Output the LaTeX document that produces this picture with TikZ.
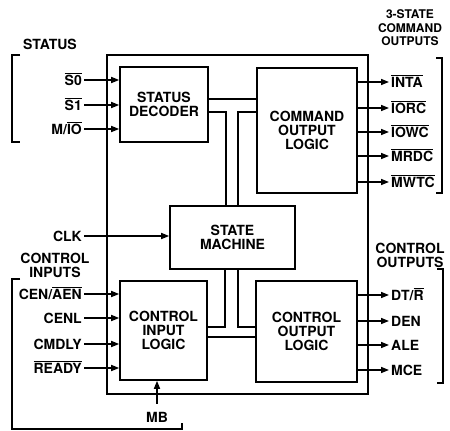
\documentclass[tikz,border=0pt]{standalone}
\usepackage{fontspec}
\setmainfont{TeX Gyre Heros}
\usepackage{tikz}
\usetikzlibrary{arrows.meta}
\newcommand{\sigbar}[1]{$\overline{\mbox{#1}}$}

\begin{document}
\begin{tikzpicture}[x=1pt,y=-1pt]
  \tikzset{chipbox/.style={draw=black,line width=1.6pt,inner sep=0pt}}
  \tikzset{blockbox/.style={draw=black,line width=1.6pt,inner sep=0pt,align=center,font=\bfseries\fontsize{14}{14}\selectfont}}
  \tikzset{siglabel/.style={font=\bfseries\fontsize{14}{14}\selectfont,inner sep=2pt,text height=10pt,text depth=0pt}}
  \tikzset{grouplabel/.style={font=\bfseries\fontsize{14}{14}\selectfont,align=center,inner sep=0pt}}
  \tikzset{sigline/.style={draw=black,line width=1.5pt,-{Triangle[length=8pt,width=6pt]}}}
  \tikzset{wire/.style={draw=black,line width=1.5pt}}
  \tikzset{bracketline/.style={draw=black,line width=1.1pt}}
  \useasboundingbox (0,0) rectangle (450,431);
  \node[chipbox,minimum width=261pt,minimum height=339pt] (chip) at (237.5,224.5) {};
  \node[blockbox,minimum width=88pt,minimum height=75pt] (dec) at (164,104.5) {STATUS\\DECODER};
  \node[blockbox,minimum width=100pt,minimum height=125pt] (col) at (307,130.5) {COMMAND\\OUTPUT\\LOGIC};
  \node[blockbox,minimum width=125pt,minimum height=63pt] (sm) at (232.5,237.5) {STATE\\MACHINE};
  \node[blockbox,minimum width=87pt,minimum height=99pt] (cil) at (163.5,330.5) {CONTROL\\INPUT\\LOGIC};
  \node[blockbox,minimum width=101pt,minimum height=101pt] (colog) at (306.5,331.5) {CONTROL\\OUTPUT\\LOGIC};
  \node[grouplabel] (status) at (50,44) {STATUS};
  \node[grouplabel] (ctlin) at (55,265) {CONTROL\\INPUTS};
  \node[grouplabel,font=\bfseries\fontsize{12}{13.5}\selectfont] (cmdout) at (410,28) {3-STATE\\COMMAND\\OUTPUTS};
  \node[grouplabel] (ctlout) at (410,255) {CONTROL\\OUTPUTS};
  \node[siglabel,anchor=east] (s0) at (84,80) {\sigbar{S0}};
  \node[siglabel,anchor=east] (s1) at (84,105) {\sigbar{S1}};
  \node[siglabel,anchor=east] (mio) at (84,129) {M/\sigbar{IO}};
  \node[siglabel,anchor=east] (clk) at (84,236) {CLK};
  \node[siglabel,anchor=east] (cen) at (84,294) {CEN/\sigbar{AEN}};
  \node[siglabel,anchor=east] (cenl) at (84,318) {CENL};
  \node[siglabel,anchor=east] (cmdly) at (84,344) {CMDLY};
  \node[siglabel,anchor=east] (ready) at (84,368) {\sigbar{READY}};
  \node[siglabel] (mb) at (157,417) {MB};
  \node[siglabel,anchor=west] (inta) at (389,82) {\sigbar{INTA}};
  \node[siglabel,anchor=west] (iorc) at (389,108) {\sigbar{IORC}};
  \node[siglabel,anchor=west] (iowc) at (389,132) {\sigbar{IOWC}};
  \node[siglabel,anchor=west] (mrdc) at (389,156) {\sigbar{MRDC}};
  \node[siglabel,anchor=west] (mwtc) at (389,182) {\sigbar{MWTC}};
  \node[siglabel,anchor=west] (dtr) at (389,295) {DT/\sigbar{R}};
  \node[siglabel,anchor=west] (den) at (389,321) {DEN};
  \node[siglabel,anchor=west] (ale) at (389,345) {ALE};
  \node[siglabel,anchor=west] (mce) at (389,370) {MCE};
  \draw[sigline] (s0.east) -- (s0.east -| dec.west);
  \draw[sigline] (s1.east) -- (s1.east -| dec.west);
  \draw[sigline] (mio.east) -- (mio.east -| dec.west);
  \draw[sigline] (clk.east) -- (clk.east -| sm.west);
  \draw[sigline] (cen.east) -- (cen.east -| cil.west);
  \draw[sigline] (cenl.east) -- (cenl.east -| cil.west);
  \draw[sigline] (cmdly.east) -- (cmdly.east -| cil.west);
  \draw[sigline] (ready.east) -- (ready.east -| cil.west);
  \draw[sigline] ([yshift=6pt]mb.north) -- (mb.north |- cil.south);
  \draw[sigline] (col.east |- inta.west) -- (inta.west);
  \draw[sigline] (col.east |- iorc.west) -- (iorc.west);
  \draw[sigline] (col.east |- iowc.west) -- (iowc.west);
  \draw[sigline] (col.east |- mrdc.west) -- (mrdc.west);
  \draw[sigline] (col.east |- mwtc.west) -- (mwtc.west);
  \draw[sigline] (colog.east |- dtr.west) -- (dtr.west);
  \draw[sigline] (colog.east |- den.west) -- (den.west);
  \draw[sigline] (colog.east |- ale.west) -- (ale.west);
  \draw[sigline] (colog.east |- mce.west) -- (mce.west);
  \draw[wire] (dec.east |- 0,99) -- (col.west |- 0,99);
  \draw[wire] (dec.east |- 0,112) -| ([xshift=-6.5pt]sm.north);
  \draw[wire] (col.west |- 0,112) -| ([xshift=5.5pt]sm.north);
  \draw[wire] ([xshift=-7.5pt]sm.south) |- (cil.east |- 0,327);
  \draw[wire] ([xshift=5.5pt]sm.south) |- (colog.west |- 0,327);
  \draw[wire] (cil.east |- 0,337) -- (colog.west |- 0,337);
  \draw[bracketline] (20,55) -- (12,55) -- (12,142) -- (20,142);
  \draw[bracketline] (20,279) -- (12,279) -- (12,429) -- (182,429) -- (182,423);
  \draw[bracketline] (436,58) -- (442,58) -- (442,193) -- (436,193);
  \draw[bracketline] (437,269) -- (443,269) -- (443,383) -- (437,383);
\end{tikzpicture}
\end{document}
